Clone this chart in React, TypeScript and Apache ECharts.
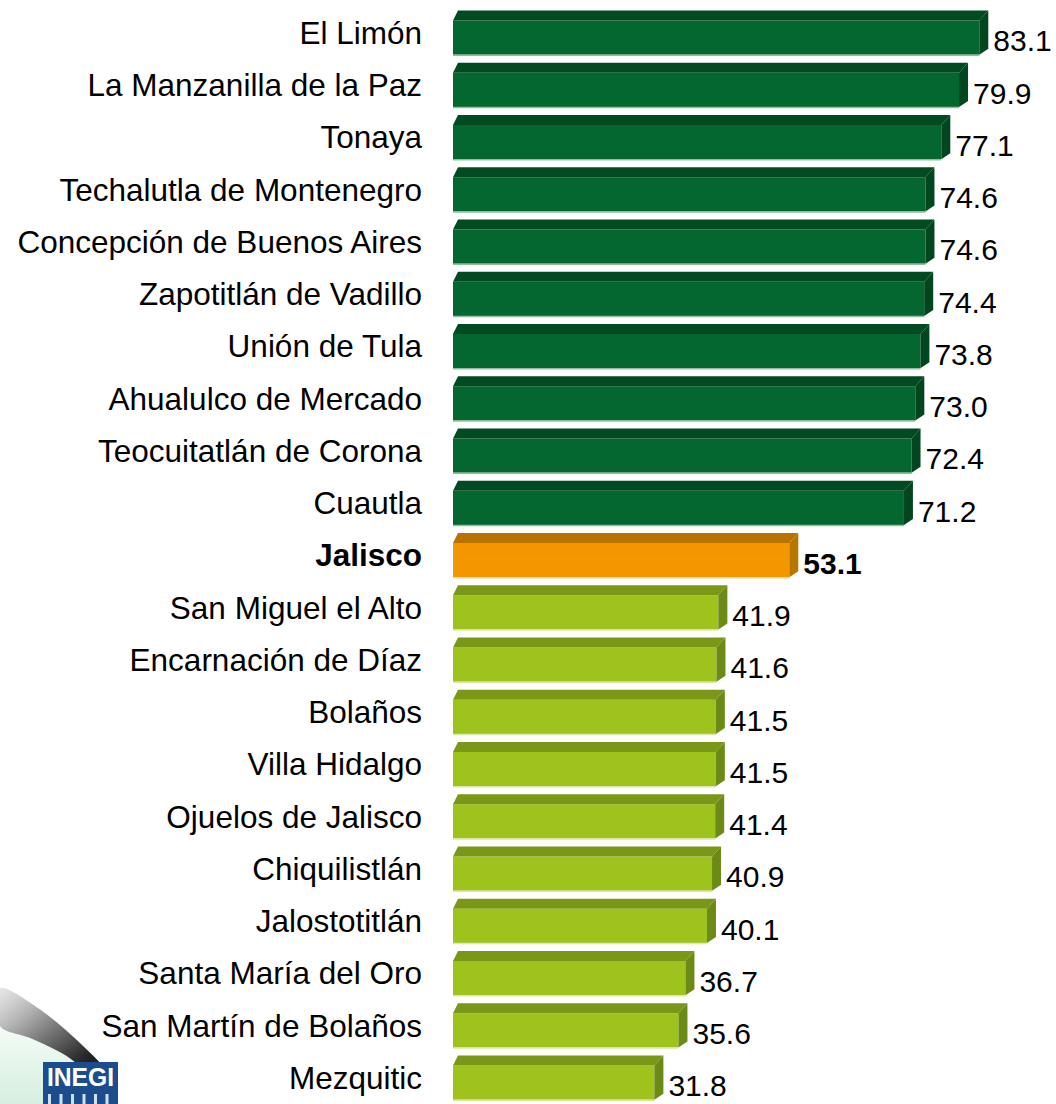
import React, { useEffect, useRef } from "react";
import * as echarts from "echarts";

const categories: string[] = [
  "El Limón",
  "La Manzanilla de la Paz",
  "Tonaya",
  "Techalutla de Montenegro",
  "Concepción de Buenos Aires",
  "Zapotitlán de Vadillo",
  "Unión de Tula",
  "Ahualulco de Mercado",
  "Teocuitatlán de Corona",
  "Cuautla",
  "Jalisco",
  "San Miguel el Alto",
  "Encarnación de Díaz",
  "Bolaños",
  "Villa Hidalgo",
  "Ojuelos de Jalisco",
  "Chiquilistlán",
  "Jalostotitlán",
  "Santa María del Oro",
  "San Martín de Bolaños",
  "Mezquitic",
];

const values: number[] = [
  83.1, 79.9, 77.1, 74.6, 74.6, 74.4, 73.8, 73.0, 72.4, 71.2, 53.1, 41.9, 41.6,
  41.5, 41.5, 41.4, 40.9, 40.1, 36.7, 35.6, 31.8,
];

const highlightCategory = "Jalisco";

const FONT = "Arial, 'Liberation Sans', sans-serif";

const PALETTES = {
  high: { front: "#04672f", top: "#024b22", side: "#02461f", edge: "#8fc1a0" },
  mid: { front: "#f39700", top: "#b97302", side: "#b77600", edge: "#f9d69c" },
  low: { front: "#9ec31c", top: "#7a9717", side: "#6c8a16", edge: "#dbe8a8" },
};

export default function App() {
  const ref = useRef<HTMLDivElement | null>(null);

  useEffect(() => {
    document.body.style.margin = "0";
    if (!ref.current) return;
    const chart = echarts.init(ref.current, undefined, { renderer: "svg" });
    const hiIdx = categories.indexOf(highlightCategory);
    const hiVal = values[hiIdx];

    const renderItem = (params: any, api: any) => {
      const v = api.value(0);
      const idx = api.value(1);
      const p0 = api.coord([0, idx]);
      const p1 = api.coord([v, idx]);
      const x0 = p0[0];
      const x1 = p1[0];
      const yc = p1[1];
      const ft = yc - 12.3;
      const fb = yc + 22;
      const d = 10;
      const dx = 9;
      const pal =
        categories[idx] === highlightCategory
          ? PALETTES.mid
          : v > hiVal
          ? PALETTES.high
          : PALETTES.low;
      const bold = categories[idx] === highlightCategory;
      return {
        type: "group",
        children: [
          {
            type: "rect",
            shape: { x: x0, y: ft, width: x1 - x0, height: fb - ft },
            style: { fill: pal.front },
          },
          {
            type: "line",
            shape: { x1: x0, y1: fb + 0.5, x2: x1, y2: fb + 0.5 },
            style: { stroke: pal.edge, lineWidth: 1.5 },
          },
          {
            type: "polygon",
            shape: {
              points: [
                [x0, ft],
                [x0 + 5, ft - d],
                [x1 + dx, ft - d],
                [x1, ft],
              ],
            },
            style: { fill: pal.top },
          },
          {
            type: "polygon",
            shape: {
              points: [
                [x1, ft],
                [x1 + dx, ft - d],
                [x1 + dx, fb - 6],
                [x1, fb],
              ],
            },
            style: { fill: pal.side },
          },
          {
            type: "text",
            x: x1 + 14,
            y: yc + 8,
            style: {
              text: v.toFixed(1),
              fontSize: 30,
              fontFamily: FONT,
              fontWeight: bold ? "bold" : "normal",
              fill: "#000",
              align: "left",
              verticalAlign: "middle",
            },
          },
        ],
      };
    };

    const option: any = {
      animation: false,
      backgroundColor: "#ffffff",
      grid: { left: 453, top: 6.7, width: 570, height: 21 * 52.6 },
      xAxis: {
        type: "value",
        min: 0,
        max: 90,
        show: false,
      },
      yAxis: {
        type: "category",
        data: categories,
        inverse: true,
        axisLine: { show: false },
        axisTick: { show: false },
        splitLine: { show: false },
        axisLabel: {
          margin: 31,
          fontSize: 31.5,
          fontFamily: FONT,
          color: "#000",
          formatter: (val: string) =>
            val === highlightCategory ? `{b|${val}}` : `{n|${val}}`,
          rich: {
            b: {
              fontSize: 31.5,
              fontWeight: "bold",
              fontFamily: FONT,
              color: "#000",
            },
            n: {
              fontSize: 31.5,
              fontFamily: FONT,
              color: "#000",
            },
          },
        },
      },
      series: [
        {
          type: "custom",
          renderItem,
          encode: { x: 0, y: 1 },
          data: values.map((v, i) => [v, i]),
          clip: false,
        },
      ],
      graphic: [
        {
          type: "polygon",
          z: 0,
          shape: {
            points: [
              [0, 1028],
              [30, 1038],
              [65, 1055],
              [102, 1082],
              [112, 1104],
              [0, 1104],
            ],
            smooth: 0.3,
          },
          style: {
            fill: {
              type: "linear",
              x: 0,
              y: 0,
              x2: 0,
              y2: 1,
              colorStops: [
                { offset: 0, color: "#f4fbf6" },
                { offset: 1, color: "#d3eedc" },
              ],
            },
          },
        },
        {
          type: "polygon",
          z: 1,
          shape: {
            points: [
              [0, 988],
              [38, 1008],
              [80, 1043],
              [112, 1078],
              [102, 1082],
              [65, 1055],
              [30, 1038],
              [0, 1026],
            ],
            smooth: 0.3,
          },
          style: {
            fill: {
              type: "linear",
              x: 0,
              y: 0,
              x2: 1,
              y2: 1,
              colorStops: [
                { offset: 0, color: "rgba(200,200,200,0.4)" },
                { offset: 0.4, color: "#8a8a8a" },
                { offset: 0.75, color: "#262626" },
                { offset: 1, color: "#0d0d0d" },
              ],
            },
          },
        },
        {
          type: "rect",
          z: 2,
          shape: { x: 43, y: 1062, width: 75, height: 42 },
          style: { fill: "#1b4c8e" },
        },
        {
          type: "text",
          z: 3,
          x: 80.5,
          y: 1077,
          scaleX: 0.95,
          style: {
            text: "INEGI",
            fontSize: 26,
            fontWeight: "bold",
            fontFamily: FONT,
            fill: "#ffffff",
            align: "center",
            verticalAlign: "middle",
          },
        },
        ...[0, 1, 2, 3, 4, 5].map((k) => ({
          type: "rect",
          z: 3,
          shape: { x: 48 + k * 11.5, y: 1094, width: 3, height: 10 },
          style: { fill: "#cfe0f2" },
        })),
      ],
    };
    chart.setOption(option);
    return () => chart.dispose();
  }, []);

  return <div ref={ref} style={{ width: 1056, height: 1104 }} />;
}
